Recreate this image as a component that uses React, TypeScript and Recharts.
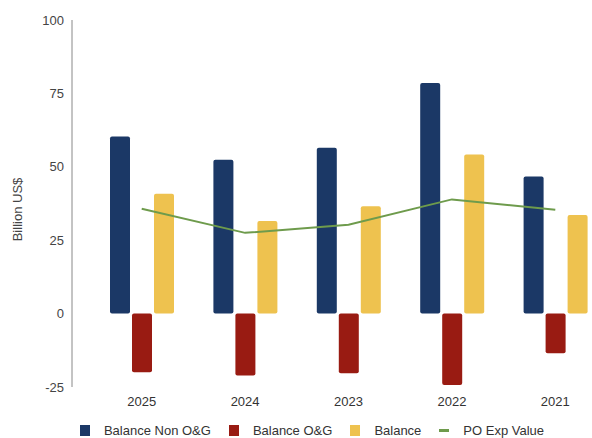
import React from 'react';
import { ComposedChart, Bar, Line, XAxis, YAxis, Legend } from 'recharts';

// Fiscal balance by year, billion US$
const years = ['2025', '2024', '2023', '2022', '2021'];
const balanceNonOG = [60.3, 52.4, 56.5, 78.5, 46.7];
const balanceOG = [-20.0, -21.1, -20.3, -24.3, -13.5];
const balance = [40.8, 31.5, 36.6, 54.2, 33.6];
const poExpValue = [35.7, 27.5, 30.3, 38.9, 35.4];
const yTicks = [-25, 0, 25, 50, 75, 100];

const seriesNames = ['Balance Non O&G', 'Balance O&G', 'Balance', 'PO Exp Value'];
const seriesColors = ['#1b3866', '#991b12', '#eec24f', '#6e9b4c'];

const data = years.map((year, i) => ({
  year,
  nonOG: balanceNonOG[i],
  og: balanceOG[i],
  balance: balance[i],
  po: poExpValue[i],
}));

const FONT = '"Liberation Sans", Arial, sans-serif';

const renderLegend = () => (
  <div
    style={{
      display: 'flex',
      justifyContent: 'center',
      alignItems: 'center',
      fontFamily: FONT,
      fontSize: 13,
      color: '#333',
      height: 24,
    }}
  >
    {seriesNames.map((name, i) => (
      <div key={name} style={{ display: 'flex', alignItems: 'center', marginRight: i < 3 ? 18 : 0 }}>
        {i < 3 ? (
          <span style={{ width: 10, height: 11, background: seriesColors[i], display: 'inline-block' }} />
        ) : (
          <span style={{ width: 10, height: 3, background: seriesColors[i], display: 'inline-block' }} />
        )}
        <span style={{ marginLeft: 14 }}>{name}</span>
      </div>
    ))}
  </div>
);

const YLabel = (props: any) => {
  const vb = props.viewBox || { x: 0, y: 0, width: 0, height: 0 };
  const cx = vb.x + 17;
  const cy = vb.y + vb.height / 2 + 6;
  return (
    <text
      transform={`translate(${cx},${cy}) rotate(-90)`}
      textAnchor="middle"
      dominantBaseline="central"
      fontFamily={FONT}
      fontSize={13}
      fill="#444"
    >
      Billion US$
    </text>
  );
};

export default function App() {
  return (
    <div style={{ width: 592, height: 438, overflow: 'hidden', background: '#fff' }}>
      <style>{'body{margin:0}'}</style>
      <ComposedChart
        width={607}
        height={438}
        data={data}
        margin={{ top: 20, right: 0, bottom: 0, left: 0 }}
        barGap={2}
      >
        <XAxis
          dataKey="year"
          axisLine={false}
          tickLine={false}
          tickMargin={4}
          height={27}
          padding={{ left: 18, right: 0 }}
          tick={{ fontFamily: FONT, fontSize: 13, fill: '#333' }}
        />
        <YAxis
          width={72}
          domain={[-25, 100]}
          ticks={yTicks}
          allowDataOverflow
          axisLine={{ stroke: '#888', strokeWidth: 1 }}
          tickLine={false}
          tick={{ fontFamily: FONT, fontSize: 13, fill: '#444' }}
          label={<YLabel />}
        />
        <Legend
          verticalAlign="bottom"
          content={renderLegend}
          wrapperStyle={{ left: 0, width: 624, bottom: -4 }}
        />
        <Bar dataKey="nonOG" name={seriesNames[0]} fill={seriesColors[0]} barSize={20} radius={2} isAnimationActive={false} />
        <Bar dataKey="og" name={seriesNames[1]} fill={seriesColors[1]} barSize={20} radius={2} isAnimationActive={false} />
        <Bar dataKey="balance" name={seriesNames[2]} fill={seriesColors[2]} barSize={20} radius={2} isAnimationActive={false} />
        <Line
          dataKey="po"
          name={seriesNames[3]}
          stroke={seriesColors[3]}
          strokeWidth={2}
          dot={false}
          type="linear"
          isAnimationActive={false}
        />
      </ComposedChart>
    </div>
  );
}
